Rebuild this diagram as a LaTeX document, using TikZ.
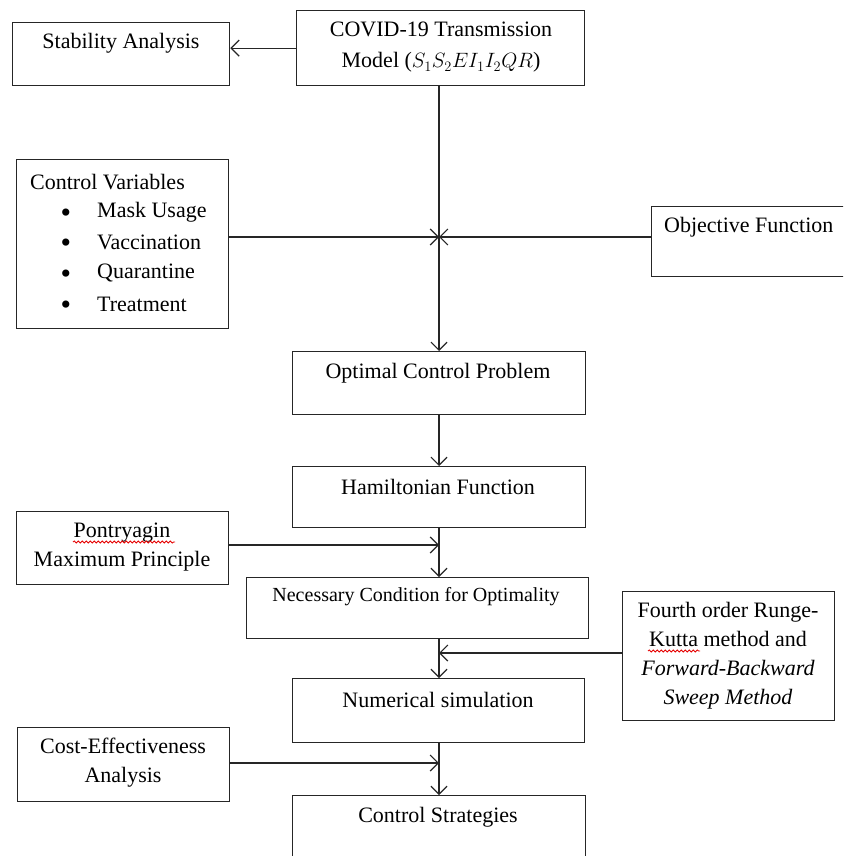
\documentclass[tikz,border=0pt]{standalone}
\usepackage{fontspec}
\setmainfont{Liberation Serif}
\usetikzlibrary{arrows.meta,decorations.pathmorphing}
\begin{document}
\begin{tikzpicture}[x=1pt,y=-1pt,
  box/.style={draw=black!85, line width=1.3pt, inner sep=0pt, anchor=north west},
  lbl/.style={font=\fontsize{22}{29}\selectfont, inner sep=0pt, align=center},
  lbll/.style={lbl, anchor=west},
  arr/.style={draw=black!85, line width=1.2pt, -{Straight Barb[length=8pt,width=16pt,line width=1.2pt]}},
  squig/.style={draw=red!90!black, line width=0.8pt, decorate, decoration={snake, amplitude=1.1pt, segment length=4pt}}]
\useasboundingbox (0,0) rectangle (843,856);
\clip (0,0) rectangle (843,856);

% boxes
\node[box, minimum width=217pt, minimum height=63pt] (stab) at (12,22) {};
\node[box, minimum width=288pt, minimum height=75pt] (covid) at (296,10) {};
\node[box, minimum width=212pt, minimum height=169pt] (ctrl) at (16,159) {};
\node[box, minimum width=260pt, minimum height=70pt] (obj) at (651,206) {};
\node[box, minimum width=293pt, minimum height=63pt] (ocp) at (292,351) {};
\node[box, minimum width=293pt, minimum height=61pt] (ham) at (292,466) {};
\node[box, minimum width=212pt, minimum height=73pt] (pont) at (16,511) {};
\node[box, minimum width=342pt, minimum height=61pt] (nec) at (246,577) {};
\node[box, minimum width=212pt, minimum height=129pt] (four) at (622,591) {};
\node[box, minimum width=292pt, minimum height=64pt] (num) at (292,678) {};
\node[box, minimum width=212pt, minimum height=74pt] (cost) at (17,727) {};
\node[box, minimum width=293pt, minimum height=95pt] (cs) at (292,795) {};

% texts
\node[lbl] (tstab) at (121,43) {Stability Analysis};
\node[lbl] (tcovid) at (441,47.5) {COVID-19 Transmission\\[2pt] Model ($S_1S_2EI_1I_2QR$)};
\node[lbll] (tctrl) at (30,182) {Control Variables};
\foreach \yy/\tt/\nm in {212/Mask Usage/a, 242/Vaccination/b, 273/Quarantine/c, 304/Treatment/d}{
  \node[font=\fontsize{30}{30}\selectfont, inner sep=0pt] (bul\nm) at (66,\yy+4) {\textbullet};
  \node[lbll] (item\nm) at (97,\yy) {\tt};
}
\node[lbll] (tobj) at (664,227) {Objective Function};
\node[lbl] (tocp) at (438,373) {Optimal Control Problem};
\node[lbl] (tham) at (438,487) {Hamiltonian Function};
\node[lbl] (tpont) at (122,547.5) {Pontryagin\\Maximum Principle};
\node[lbl, font=\fontsize{20}{26}\selectfont] (tnec) at (416,597) {Necessary Condition for Optimality};
\node[lbl] (tfour) at (728,655.5) {Fourth order Runge-\\Kutta method and\\\textit{Forward-Backward}\\\textit{Sweep Method}};
\node[lbl] (tnum) at (438,700) {Numerical simulation};
\node[lbl] (tcost) at (123,762.5) {Cost-Effectiveness\\Analysis};
\node[lbl] (tcs) at (438,817) {Control Strategies};

% spell-check squiggles
\draw[squig] (73,542) -- (175,542);
\draw[squig] (648,651) -- (700,651);

% junction points on the main vertical line
\coordinate (j1) at (439,237);
\coordinate (j2) at (439,545);
\coordinate (j3) at (439,653);
\coordinate (j4) at (439,763);

% connectors
\draw[arr] (covid.west) -- (covid.west -| stab.east);
\draw[arr] (covid.south -| j1) -- (ocp.north -| j1);
\draw[arr] (ctrl.east |- j1) -- (j1);
\draw[arr] (obj.west |- j1) -- (j1);
\draw[arr] (ocp.south -| j1) -- (ham.north -| j1);
\draw[arr] (ham.south -| j1) -- (nec.north -| j1);
\draw[arr] (pont.east |- j2) -- (j2);
\draw[arr] (nec.south -| j1) -- (num.north -| j1);
\draw[arr] (four.west |- j3) -- (j3);
\draw[arr] (num.south -| j1) -- (cs.north -| j1);
\draw[arr] (cost.east |- j4) -- (j4);
\end{tikzpicture}
\end{document}
